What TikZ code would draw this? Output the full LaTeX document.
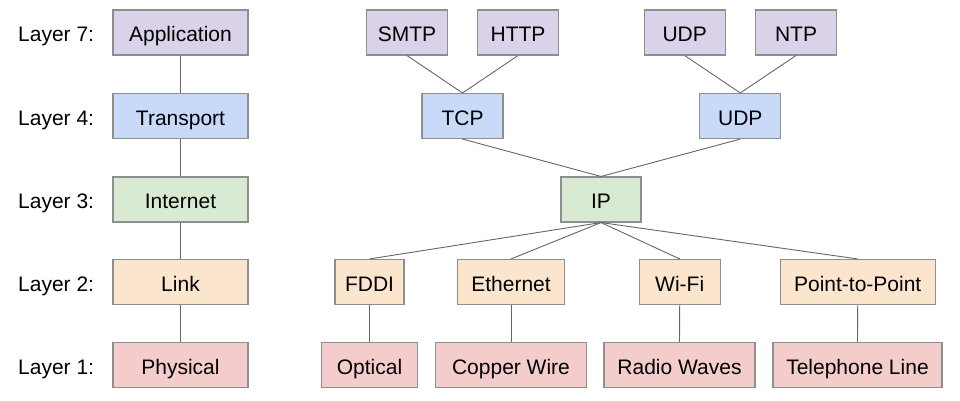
\documentclass[tikz,border=0pt]{standalone}
\usepackage{fontspec}
\setmainfont{Liberation Sans}
\definecolor{cpurple}{HTML}{D9D2E9}
\definecolor{cblue}{HTML}{C9DAF8}
\definecolor{cgreen}{HTML}{D9EAD3}
\definecolor{corange}{HTML}{FCE5CD}
\definecolor{cred}{HTML}{F4CCCC}
\definecolor{cborder}{HTML}{8E8E8E}
\definecolor{cline}{HTML}{666666}
\begin{document}
\begin{tikzpicture}[x=1pt,y=-1pt,
  box/.style={draw=cborder,line width=1.1pt,minimum height=45pt,inner sep=0pt,text height=20pt,text depth=1.6pt,font=\fontsize{21}{24}\selectfont},
  lbl/.style={anchor=base west,inner sep=0pt,font=\fontsize{21}{24}\selectfont},
  conn/.style={draw=cline,line width=0.9pt}]
\useasboundingbox (0,0) rectangle (960,400);
% layer labels
\node[lbl] (l7) at (18,41.7) {Layer 7:};
\node[lbl] (l4) at (18,125.2) {Layer 4:};
\node[lbl] (l3) at (18,208.7) {Layer 3:};
\node[lbl] (l2) at (18,291.2) {Layer 2:};
\node[lbl] (l1) at (18,374.2) {Layer 1:};
% left column
\node[box,fill=cpurple,minimum width=135pt] (app) at (180.5,32.5) {Application};
\node[box,fill=cblue,minimum width=135pt] (trans) at (180.5,116) {Transport};
\node[box,fill=cgreen,minimum width=135pt] (inet) at (180.5,199.5) {Internet};
\node[box,fill=corange,minimum width=135pt] (link) at (180.5,282) {Link};
\node[box,fill=cred,minimum width=135pt] (phys) at (180.5,365) {Physical};
% application protocols
\node[box,fill=cpurple,minimum width=80.5pt] (smtp) at (407,32.5) {SMTP};
\node[box,fill=cpurple,minimum width=81pt] (http) at (518,32.5) {HTTP};
\node[box,fill=cpurple,minimum width=81pt] (udpa) at (684.7,32.5) {UDP};
\node[box,fill=cpurple,minimum width=81pt] (ntp) at (796,32.5) {NTP};
% transport
\node[box,fill=cblue,minimum width=81pt] (tcp) at (462.5,116) {TCP};
\node[box,fill=cblue,minimum width=81pt] (udp) at (740.3,116) {UDP};
% internet
\node[box,fill=cgreen,minimum width=80pt] (ip) at (601,199.5) {IP};
% link
\node[box,fill=corange,minimum width=69pt] (fddi) at (369.5,282) {FDDI};
\node[box,fill=corange,minimum width=107.7pt] (eth) at (511,282) {Ethernet};
\node[box,fill=corange,minimum width=81pt] (wifi) at (679.7,282) {Wi-Fi};
\node[box,fill=corange,minimum width=154.7pt] (ptp) at (857.7,282) {Point-to-Point};
% physical
\node[box,fill=cred,minimum width=96.4pt] (opt) at (369.5,365) {Optical};
\node[box,fill=cred,minimum width=150.3pt] (copper) at (511,365) {Copper Wire};
\node[box,fill=cred,minimum width=151pt] (radio) at (679.5,365) {Radio Waves};
\node[box,fill=cred,minimum width=169pt] (tel) at (857.5,365) {Telephone Line};
% connectors
\draw[conn] (app.south) -- (trans.north);
\draw[conn] (trans.south) -- (inet.north);
\draw[conn] (inet.south) -- (link.north);
\draw[conn] (link.south) -- (phys.north);
\draw[conn] (smtp.south) -- (tcp.north);
\draw[conn] (http.south) -- (tcp.north);
\draw[conn] (udpa.south) -- (udp.north);
\draw[conn] (ntp.south) -- (udp.north);
\draw[conn] (tcp.south) -- (ip.north);
\draw[conn] (udp.south) -- (ip.north);
\draw[conn] (ip.south) -- (fddi.north);
\draw[conn] (ip.south) -- (eth.north);
\draw[conn] (ip.south) -- (wifi.north);
\draw[conn] (ip.south) -- (ptp.north);
\draw[conn] (fddi.south) -- (opt.north);
\draw[conn] (eth.south) -- (copper.north);
\draw[conn] (wifi.south) -- (radio.north);
\draw[conn] (ptp.south) -- (tel.north);
\end{tikzpicture}
\end{document}
